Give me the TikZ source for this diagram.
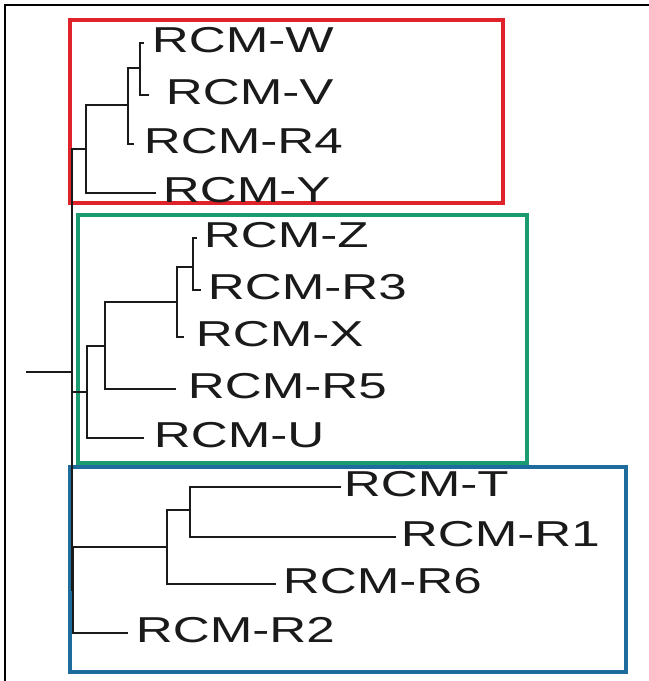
\documentclass[tikz,border=0pt]{standalone}
\usepackage{fontspec}
\setmainfont{Liberation Sans}
\usepackage{xcolor}
\usepackage{tikz}
\usetikzlibrary{positioning}
\definecolor{cladered}{HTML}{E0222B}
\definecolor{cladegreen}{HTML}{1B9B72}
\definecolor{cladeblue}{HTML}{1D6C9C}
\definecolor{ink}{HTML}{1A1A1A}
\newcommand{\taxon}[1]{\scalebox{1.42}[1]{#1}}
\tikzset{
    every picture/.style={line cap=rect,line join=miter},
    branch/.style={draw=ink,line width=1.35pt},
    cladebox/.style={line width=2pt},
    frameline/.style={draw=black,line width=1.2pt},
    leaflabel/.style={inner sep=0pt,outer sep=0pt,text=ink,
      font=\fontsize{20.5}{24}\selectfont,yshift=0.06cm}
}

\begin{document}
\begin{tikzpicture}[x=0.02cm,y=-0.02cm]
    \useasboundingbox (0,0) rectangle (649,681);
    \draw[frameline] (5,681) -- (5,5) -- (649,5);
    % clade boxes
    \draw[cladebox,draw=cladered] (70,20) rectangle (503,203);
    \draw[cladebox,draw=cladegreen] (78,215) rectangle (527,463);
    \draw[cladebox,draw=cladeblue] (70,467) rectangle (626,672);
    % inner nodes
    \coordinate (base) at (27,372);
    \coordinate (root) at (72,372);
    \coordinate (r0) at (86,149);
    \coordinate (r1) at (128,105);
    \coordinate (r2) at (140,68);
    \coordinate (g0) at (87,392);
    \coordinate (g1) at (105,346);
    \coordinate (g2) at (177,302);
    \coordinate (g3) at (193,267);
    \coordinate (b0) at (73,590);
    \coordinate (b1) at (167,547);
    \coordinate (b2) at (190,510);
    % leaves
    \coordinate (W) at (143,43);
    \coordinate (V) at (148,95);
    \coordinate (R4) at (133,144);
    \coordinate (Y) at (155,193);
    \coordinate (Z) at (196,238);
    \coordinate (R3) at (200,290);
    \coordinate (X) at (183,337);
    \coordinate (R5) at (175,389);
    \coordinate (U) at (143,438);
    \coordinate (T) at (340,487);
    \coordinate (R1) at (395,537);
    \coordinate (R6) at (275,584);
    \coordinate (R2) at (127,633);
    % branches
    \draw[branch] (base) -- (root);
    \draw[branch] (root) |- (r0);
    \draw[branch] (root) |- (g0);
    \draw[branch] (root) |- (b0);
    \draw[branch] (r0) |- (r1);
    \draw[branch] (r0) |- (Y);
    \draw[branch] (r1) |- (r2);
    \draw[branch] (r1) |- (R4);
    \draw[branch] (r2) |- (W);
    \draw[branch] (r2) |- (V);
    \draw[branch] (g0) |- (g1);
    \draw[branch] (g0) |- (U);
    \draw[branch] (g1) |- (g2);
    \draw[branch] (g1) |- (R5);
    \draw[branch] (g2) |- (g3);
    \draw[branch] (g2) |- (X);
    \draw[branch] (g3) |- (Z);
    \draw[branch] (g3) |- (R3);
    \draw[branch] (b0) |- (b1);
    \draw[branch] (b0) |- (R2);
    \draw[branch] (b1) |- (b2);
    \draw[branch] (b1) |- (R6);
    \draw[branch] (b2) |- (T);
    \draw[branch] (b2) |- (R1);
    % taxon names
    \node[leaflabel,right=0.18cm of W] (tW) {\taxon{RCM-W}};
    \node[leaflabel,right=0.36cm of V] (tV) {\taxon{RCM-V}};
    \node[leaflabel,right=0.22cm of R4] (tR4) {\taxon{RCM-R4}};
    \node[leaflabel,right=0.16cm of Y] (tY) {\taxon{RCM-Y}};
    \node[leaflabel,right=0.16cm of Z] (tZ) {\taxon{RCM-Z}};
    \node[leaflabel,right=0.16cm of R3] (tR3) {\taxon{RCM-R3}};
    \node[leaflabel,right=0.26cm of X] (tX) {\taxon{RCM-X}};
    \node[leaflabel,right=0.26cm of R5] (tR5) {\taxon{RCM-R5}};
    \node[leaflabel,right=0.22cm of U] (tU) {\taxon{RCM-U}};
    \node[leaflabel,right=0.08cm of T] (tT) {\taxon{RCM-T}};
    \node[leaflabel,right=0.12cm of R1] (tR1) {\taxon{RCM-R1}};
    \node[leaflabel,right=0.16cm of R6] (tR6) {\taxon{RCM-R6}};
    \node[leaflabel,right=0.18cm of R2] (tR2) {\taxon{RCM-R2}};
\end{tikzpicture}
\end{document}
